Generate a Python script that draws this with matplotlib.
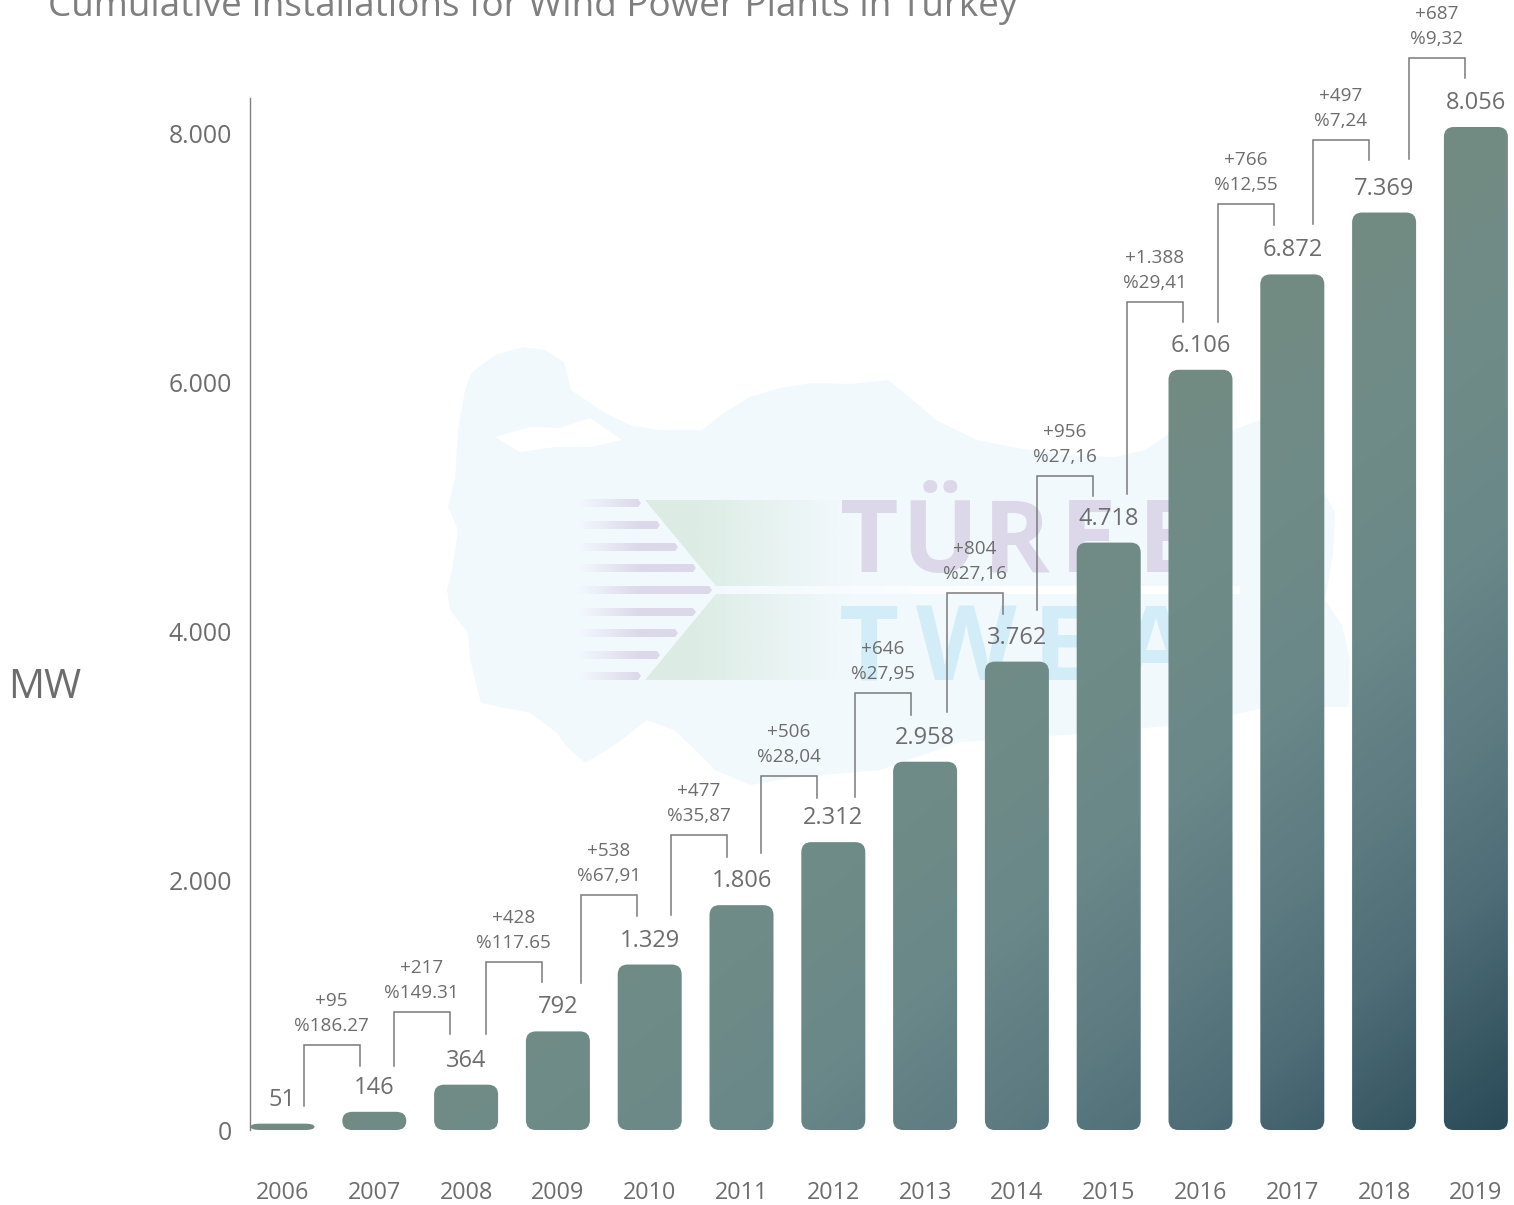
import numpy as np
import matplotlib
matplotlib.use("Agg")
import matplotlib.pyplot as plt
from matplotlib.path import Path
from matplotlib.patches import Polygon, PathPatch
from matplotlib.colors import LinearSegmentedColormap

years = ["2006","2007","2008","2009","2010","2011","2012","2013","2014","2015","2016","2017","2018","2019"]
values = [51,146,364,792,1329,1806,2312,2958,3762,4718,6106,6872,7369,8056]
value_labels = ["51","146","364","792","1.329","1.806","2.312","2.958","3.762","4.718","6.106","6.872","7.369","8.056"]
increase_labels = ["+95","+217","+428","+538","+477","+506","+646","+804","+956","+1.388","+766","+497","+687"]
percent_labels = ["%186.27","%149.31","%117.65","%67,91","%35,87","%28,04","%27,95","%27,16","%27,16","%29,41","%12,55","%7,24","%9,32"]
yticks = [0,2000,4000,6000,8000]
ytick_labels = ["0","2.000","4.000","6.000","8.000"]

# bracket layout, in pixels
bracket_dx = [21.5,19.7,19.9,23.1,21.3,19.5,21.7,21.9,20.1,18.3,17.5,20.7,24.9]
bracket_top = [67,73,69,70,70,66,69,69,67,68,70,73,69]
bracket_right = [46,51,49,49,48,44,47,48,47,48,49,53,49]
bracket_left = [18,46,51,48,50,52,45,50,52,49,48,50,54]

W, H = 1514, 1205
FONT = "Open Sans"
plt.rcParams["font.family"] = [FONT, "DejaVu Sans"]
fig = plt.figure(figsize=(W/100, H/100), dpi=100, facecolor="white")

# ---------- watermark ----------
bg = fig.add_axes([0, 0, 1, 1], zorder=0)
bg.set_xlim(0, W); bg.set_ylim(H, 0); bg.axis("off")
turkey = [(448,507),(455,478),(458,430),(465,390),(471,373),(495,355),(523,347),(545,350),(564,362),(571,390),
 (605,413),(630,425),(660,430),(702,430),(725,412),(750,397),(780,388),(812,383),(850,384),(888,380),(901,390),(936,420),
 (977,440),(1012,447),(1060,455),(1115,457),(1145,450),(1170,433),(1233,430),(1267,417),(1310,465),(1335,513),
 (1333,555),(1325,600),(1342,625),(1350,660),(1349,707),(1267,707),(1198,723),(1094,733),(960,742),(880,770),(790,778),(750,785),
 (715,770),(690,745),(674,730),(647,720),(615,745),(585,763),(565,745),(557,733),(530,713),(481,703),(470,660),(468,633),
 (450,610),(447,590),(452,570),(458,530)]
bg.add_patch(Polygon(turkey, closed=True, fc="#f2f9fd", ec="none", zorder=1))
bg.add_patch(Polygon([(495,437),(530,427),(560,428),(590,418),(622,440),(590,447),(555,447),(520,452)],
                     closed=True, fc="white", ec="none", zorder=1.5))

def fade(poly, rgb, x0, x1, reverse=False):
    xs = [p[0] for p in poly]
    ys = [p[1] for p in poly]
    grid = np.linspace(min(xs), max(xs), 256)
    a = np.clip((grid-x0)/(x1-x0), 0, 1)
    if reverse:
        a = 1-a
    img = np.zeros((1, 256, 4))
    img[..., :3] = matplotlib.colors.to_rgb(rgb)
    img[..., 3] = a
    im = bg.imshow(img, extent=(min(xs), max(xs), max(ys), min(ys)), aspect="auto", interpolation="bilinear", zorder=2)
    im.set_clip_path(Polygon(poly, closed=True, transform=bg.transData))

fade([(645,500),(850,500),(850,586),(716,586)], "#dcece4", 690, 850, reverse=True)
fade([(716,594),(850,594),(850,680),(645,680)], "#dcece4", 690, 850, reverse=True)
stripe_y = [503,525,547,568,590,612,633,655,676]
stripe_x = [641,660,678,696,712,696,678,660,641]
for sy, sx in zip(stripe_y, stripe_x):
    fade([(575,sy-4),(sx-3,sy-4),(sx,sy),(sx-3,sy+4),(575,sy+4)], "#dcd8ea", 578, 640)
fade([(716,586),(1240,586),(1240,594),(716,594)], "#ffffff", 700, 1000)
bg.set_xlim(0, W); bg.set_ylim(H, 0)
for ch, x in zip("TÜREB", [869, 940, 1016, 1088, 1172]):
    bg.text(x, 572, ch, fontsize=73, fontweight="bold", color="#dcd8ea", va="baseline", ha="center", zorder=3)
for ch, x in zip("TWEA", [869, 966, 1062, 1156]):
    bg.text(x, 680, ch, fontsize=75, fontweight="bold", color="#d2ecf8", va="baseline", ha="center", zorder=3)

# ---------- main axes ----------
PX_X = 91.8           # px per category
PX_Y = (1130-127)/8056  # px per MW
left, right, top, bottom = 250, 1514, 98, 1130
ax = fig.add_axes([left/W, 1-bottom/H, (right-left)/W, (bottom-top)/H], zorder=1)
ax.patch.set_visible(False)
xlim = ((left-282.5)/PX_X, (right-282.5)/PX_X)
ylim = (0, (bottom-top)/PX_Y)

hw = 32/PX_X
verts, codes = [], []
for i, v in enumerate(values):
    rx = 10/PX_X
    ry = min(10/PX_Y, v/2)
    l, r = i-hw, i+hw
    verts += [(l,ry),(l,v-ry),(l,v),(l+rx,v),(r-rx,v),(r,v),(r,v-ry),(r,ry),(r,0),(r-rx,0),(l+rx,0),(l,0),(l,ry),(l,ry)]
    codes += [Path.MOVETO,Path.LINETO,Path.CURVE3,Path.CURVE3,Path.LINETO,Path.CURVE3,Path.CURVE3,
              Path.LINETO,Path.CURVE3,Path.CURVE3,Path.LINETO,Path.CURVE3,Path.CURVE3,Path.CLOSEPOLY]
bars = Path(verts, codes)

cmap = LinearSegmentedColormap.from_list("bars", [(0,"#738b82"),(0.5,"#728b83"),(0.58,"#708c87"),(0.7,"#6a8889"),
                                                  (0.8,"#5c7a80"),(0.875,"#4e6d77"),(1,"#2a4a57")])
gx, gy = np.meshgrid(np.linspace(0,1,400), np.linspace(0,1,400))
grad = 0.5*gx + 0.5*gy
x0, x1 = -hw, len(values)-1+hw
im = ax.imshow(grad, cmap=cmap, vmin=0, vmax=1, extent=(x0,x1,0,max(values)), aspect="auto", origin="upper", interpolation="bilinear")
im.set_clip_path(PathPatch(bars, transform=ax.transData))
ax.set_xlim(*xlim); ax.set_ylim(*ylim)

TXT = "#6d6d6d"
for i, (v, lab) in enumerate(zip(values, value_labels)):
    ax.text(i, v+24/PX_Y, lab, ha="center", va="center", fontsize=17, color=TXT, zorder=5)

LINE = "#7a7a7a"
for i in range(len(values)-1):
    a, b = values[i], values[i+1]
    lo = a + bracket_left[i]/PX_Y
    hi_r = b + bracket_right[i]/PX_Y
    hi = b + bracket_top[i]/PX_Y
    xl, xr = i + bracket_dx[i]/PX_X, i + (bracket_dx[i]+55.5)/PX_X
    ax.plot([xl,xl,xr,xr], [lo,hi,hi,hi_r], color=LINE, lw=1.1, solid_joinstyle="miter", clip_on=False, zorder=4)
    xm = (xl+xr)/2
    ax.text(xm, hi+44/PX_Y, increase_labels[i], ha="center", va="center", fontsize=13.6, color=TXT, clip_on=False, zorder=5)
    ax.text(xm, hi+19/PX_Y, percent_labels[i], ha="center", va="center", fontsize=13.6, color=TXT, clip_on=False, zorder=5)

for s in ["top","right","bottom"]:
    ax.spines[s].set_visible(False)
ax.spines["left"].set_color("#808080"); ax.spines["left"].set_linewidth(1)
ax.set_yticks(yticks); ax.set_yticklabels(ytick_labels, fontsize=17.8, color=TXT)
ax.tick_params(axis="y", length=0, pad=13)
ax.set_xticks(range(len(years))); ax.set_xticklabels(years, fontsize=16.8, color=TXT)
ax.tick_params(axis="x", length=0, pad=37)
ax.set_ylabel("")

fig.text(8/W, 1-688/H, "MW", fontsize=29, color=TXT, ha="left", va="center")
fig.text(48/W, 1-16/H, "Cumulative Installations for Wind Power Plants in Turkey", fontsize=26.6,
         color="#7f7f7f", ha="left", va="baseline")
fig.savefig("out.png", dpi=100)
